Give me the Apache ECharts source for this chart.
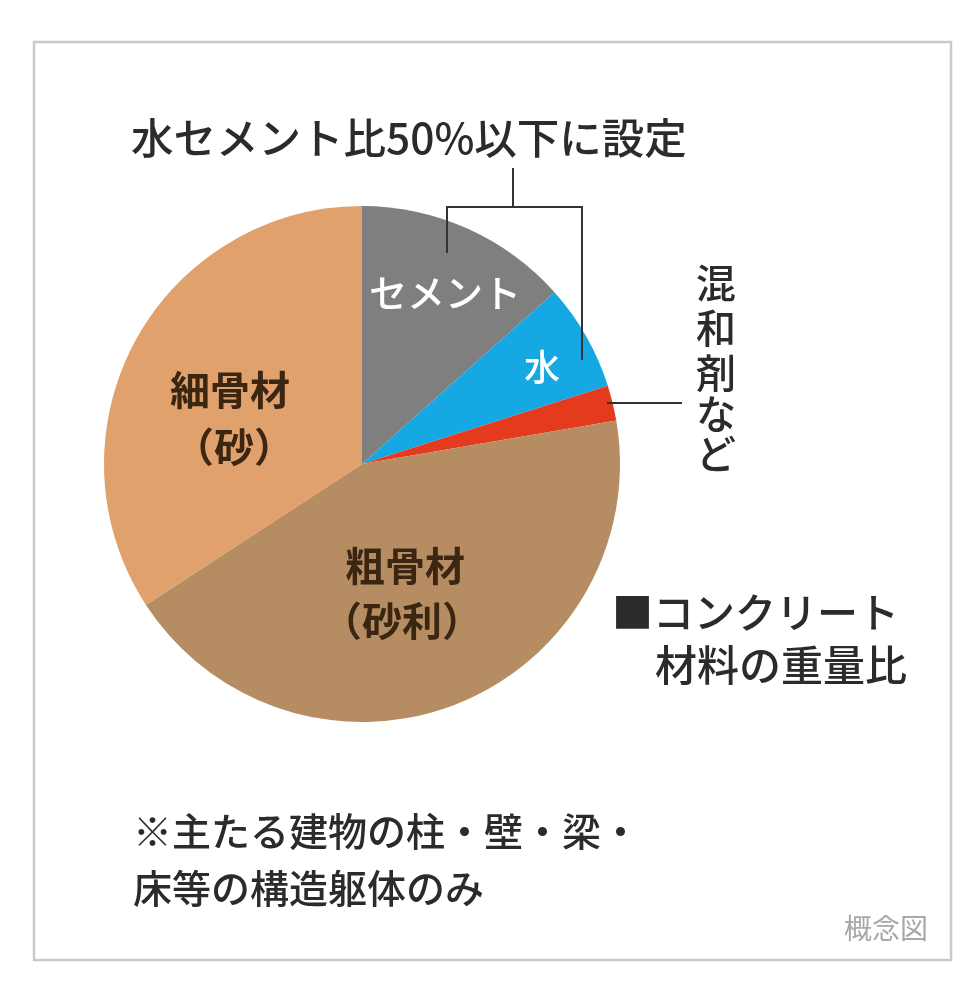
<!DOCTYPE html>
<html>
<head>
<meta charset="utf-8">
<script src="https://cdn.jsdelivr.net/npm/echarts@6/dist/echarts.min.js"></script>
<style>
html,body{margin:0;padding:0;background:#fff;}
#c{width:980px;height:995px;}
</style>
</head>
<body>
<div id="c"></div>
<script>
// Data (share of concrete weight, %)
var categories = ['セメント', '水', '混和剤など', '粗骨材', '細骨材'];
var values = [13.4, 6.7, 2.2, 43.5, 34.2];
var colors = ['#7f7f7f', '#16a8e2', '#e43b1f', '#b68d63', '#e1a16c'];

// Texts
var titleText = '水セメント比50%以下に設定';
var legendLines = ['■コンクリート', '材料の重量比'];
var noteLines = ['※主たる建物の柱・壁・梁・', '床等の構造躯体のみ'];
var stampText = '概念図';

var FONT = '"Noto Sans CJK JP", "Noto Sans", sans-serif';

var chart = echarts.init(document.getElementById('c'), null, {renderer: 'canvas'});

function txt(x, y, s, size, color, align, weight) {
  return {
    type: 'text', x: x, y: y, z: 20,
    style: {text: s, font: (weight || 500) + ' ' + size + 'px ' + FONT, fill: color,
            textAlign: align || 'left', textVerticalAlign: 'middle'}
  };
}

var dark = '#2b2b2b';
var brown = '#3b2612';
var lineStyle = {stroke: '#333', lineWidth: 2};

var option = {
  backgroundColor: '#fff',
  animation: false,
  series: [{
    type: 'pie',
    center: [362, 464],
    radius: [0, 258],
    startAngle: 90,
    clockwise: true,
    label: {show: false},
    labelLine: {show: false},
    itemStyle: {borderWidth: 0},
    emphasis: {disabled: true},
    data: categories.map(function (c, i) {
      return {name: c, value: values[i], itemStyle: {color: colors[i]}};
    })
  }],
  graphic: [
    // frame
    {type: 'rect', z: 1, shape: {x: 34, y: 42, width: 917, height: 918},
     style: {fill: 'none', stroke: '#c9c9c9', lineWidth: 2.5}},
    // title and bracket
    txt(131, 138, titleText, 42.5, dark),
    {type: 'polyline', z: 20, shape: {points: [[513, 168], [513, 207]]}, style: lineStyle},
    {type: 'polyline', z: 20, shape: {points: [[447, 253], [447, 207], [582, 207], [582, 360]]},
     style: {stroke: '#333', lineWidth: 2, fill: 'none'}},
    // admixture leader
    {type: 'polyline', z: 20, shape: {points: [[607, 403], [682, 403]]}, style: lineStyle},
    txt(716, 283, '混', 40, dark, 'center'),
    txt(716, 328, '和', 40, dark, 'center'),
    txt(716, 373, '剤', 40, dark, 'center'),
    txt(716, 414, 'な', 40, dark, 'center'),
    txt(716, 454, 'ど', 40, dark, 'center'),
    // slice labels
    txt(445, 293, categories[0], 38, '#ffffff', 'center'),
    txt(542, 367, categories[1], 36, '#ffffff', 'center'),
    txt(230, 390, '細骨材', 40, brown, 'center', 'bold'),
    txt(234, 447, '（砂）', 40, brown, 'center', 'bold'),
    txt(405, 566, '粗骨材', 40, brown, 'center', 'bold'),
    txt(402, 621, '（砂利）', 40, brown, 'center', 'bold'),
    // legend note
    txt(612, 612, legendLines[0], 41, dark),
    txt(655, 665, legendLines[1], 42, dark),
    // footnote
    txt(133, 831, noteLines[0], 39, dark),
    txt(133, 888, noteLines[1], 39, dark),
    txt(928, 928, stampText, 28, '#a8a8a8', 'right', 'normal')
  ]
};
chart.setOption(option);
</script>
</body>
</html>
